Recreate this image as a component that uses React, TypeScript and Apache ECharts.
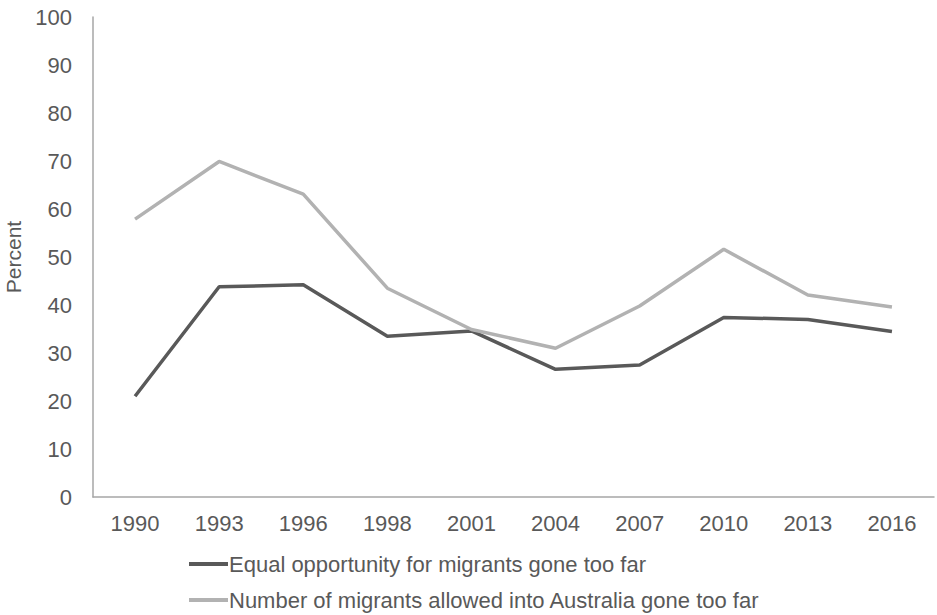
import React, { useEffect, useRef } from "react";
import * as echarts from "echarts";

const years = ["1990", "1993", "1996", "1998", "2001", "2004", "2007", "2010", "2013", "2016"];
const equalOpportunity = [21.0, 43.8, 44.2, 33.5, 34.6, 26.6, 27.5, 37.4, 37.0, 34.5];
const numberAllowed = [57.9, 69.9, 63.1, 43.5, 34.9, 31.0, 39.8, 51.6, 42.1, 39.6];
const seriesNames = [
  "Equal opportunity for migrants gone too far",
  "Number of migrants allowed into Australia gone too far",
];

export default function App() {
  const ref = useRef<HTMLDivElement>(null);
  useEffect(() => {
    if (!ref.current) return;
    const chart = echarts.init(ref.current, null, { renderer: "svg" });
    const font = "Liberation Sans, Arial, sans-serif";
    const legendBase = {
      orient: "vertical",
      left: 184,
      itemWidth: 39,
      itemHeight: 4,
      icon: "rect",
      textStyle: { fontSize: 22, color: "#595959", fontFamily: font, padding: [0, 0, 0, -4] },
    };
    chart.setOption({
      animation: false,
      textStyle: { fontFamily: font },
      grid: { left: 93, right: 3, top: 17, bottom: 118, outerBoundsMode: "none" },
      legend: [
        { ...legendBase, top: 548, data: [seriesNames[0]] },
        { ...legendBase, top: 584, data: [seriesNames[1]] },
      ],
      xAxis: {
        type: "category",
        data: years,
        boundaryGap: true,
        axisLine: { lineStyle: { color: "#a6a6a6", width: 1.5 } },
        axisTick: { show: false },
        axisLabel: { fontSize: 22, color: "#595959", margin: 15, fontFamily: font },
      },
      yAxis: {
        type: "value",
        min: 0,
        max: 100,
        interval: 10,
        name: "Percent",
        nameLocation: "middle",
        nameGap: 62,
        nameTextStyle: { fontSize: 21, color: "#595959", fontFamily: font },
        axisLine: { show: true, lineStyle: { color: "#a6a6a6", width: 1.5 } },
        axisTick: { show: false },
        splitLine: { show: false },
        axisLabel: { fontSize: 22, color: "#595959", margin: 21, fontFamily: font },
      },
      series: [
        {
          name: seriesNames[0],
          type: "line",
          data: equalOpportunity,
          symbol: "none",
          lineStyle: { color: "#595959", width: 3.5 },
          itemStyle: { color: "#595959" },
        },
        {
          name: seriesNames[1],
          type: "line",
          data: numberAllowed,
          symbol: "none",
          lineStyle: { color: "#b2b2b2", width: 3.5 },
          itemStyle: { color: "#b2b2b2" },
        },
      ],
    });
    return () => chart.dispose();
  }, []);
  return <div ref={ref} style={{ width: 937, height: 615, position: "absolute", left: 0, top: 0 }} />;
}
